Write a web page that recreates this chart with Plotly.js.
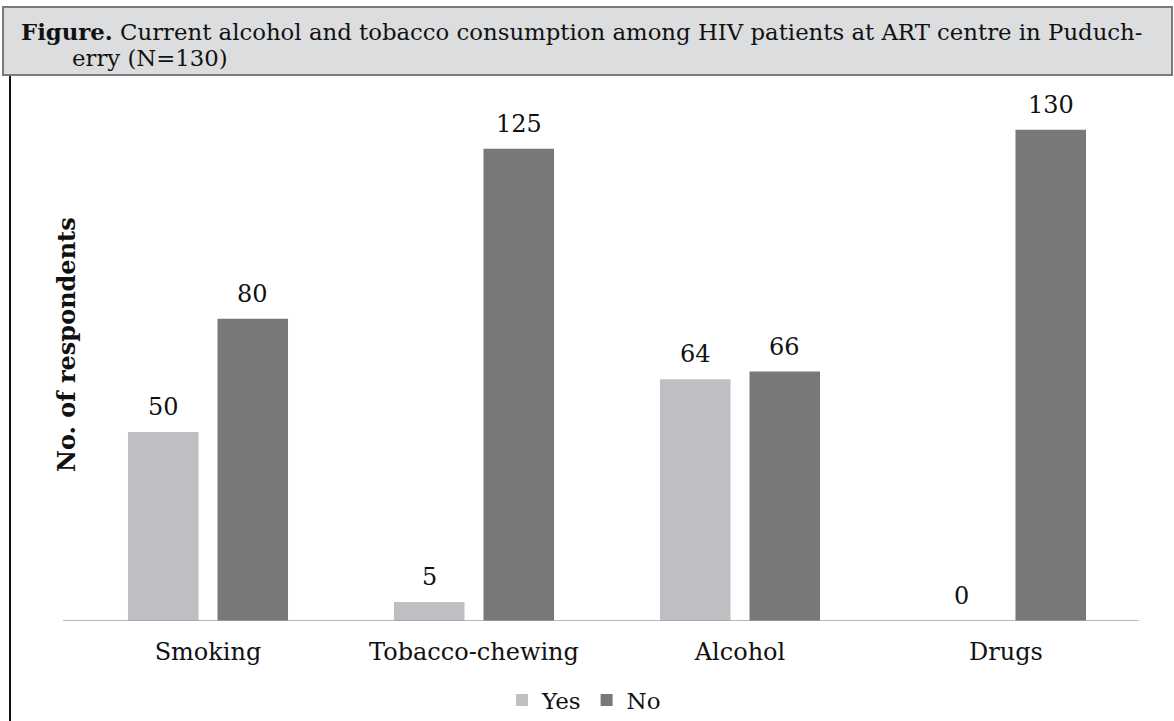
<!DOCTYPE html>
<html>
<head>
<meta charset="utf-8">
<script src="https://cdn.plot.ly/plotly-3.0.1.min.js"></script>
<style>html,body{margin:0;padding:0;background:#fff;}#chart{width:1174px;height:721px;}</style>
</head>
<body>
<div id="chart"></div>
<script>
const categories = ["Smoking", "Tobacco-chewing", "Alcohol", "Drugs"];
const yesValues = [50, 5, 64, 0];
const noValues = [80, 125, 66, 130];
const seriesNames = ["Yes", "No"];
const titleLine1 = "<b>Figure.</b> Current alcohol and tobacco consumption among HIV patients at ART centre in Puduch-";
const titleLine2 = "erry (N=130)";
const yTitle = "<b>No. of respondents</b>";

const W = 1174, H = 721;
const L = 75, R = 1139, T = 92, B = 621;
const px = x => (x - L) / (R - L);
const py = y => (B - y) / (B - T);
const FONT = "DejaVu Serif, Liberation Serif, serif";
const bargap = 0.327;
const catW = (R - L) / categories.length;
const slot = catW * (1 - bargap) / 2;

const traces = [
  {type: "bar", name: seriesNames[0], x: categories, y: yesValues, marker: {color: "#bebfc3"}, hoverinfo: "none"},
  {type: "bar", name: seriesNames[1], x: categories, y: noValues, marker: {color: "#77787a"}, hoverinfo: "none"}
];

const annotations = [];
[yesValues, noValues].forEach((vals, si) => {
  vals.forEach((v, i) => {
    annotations.push({
      x: categories[i], y: v, xref: "x", yref: "y", text: String(v), showarrow: false,
      xshift: (si === 0 ? -1 : 1) * slot / 2, yshift: 9, yanchor: "bottom",
      font: {family: FONT, size: 24, color: "#111"}
    });
  });
});
annotations.push({xref: "paper", yref: "paper", x: px(19), y: py(32), xanchor: "left", yanchor: "middle",
  text: titleLine1, showarrow: false, font: {family: FONT, size: 22.8, color: "#111"}});
annotations.push({xref: "paper", yref: "paper", x: px(70), y: py(58), xanchor: "left", yanchor: "middle",
  text: titleLine2, showarrow: false, font: {family: FONT, size: 22.8, color: "#111"}});
annotations.push({xref: "paper", yref: "paper", x: px(66), y: py(345), xanchor: "center", yanchor: "middle",
  textangle: -90, text: yTitle, showarrow: false, font: {family: FONT, size: 24, color: "#111"}});

const layout = {
  width: W, height: H,
  margin: {l: L, r: W - R, t: T, b: H - B, pad: 0, autoexpand: false},
  paper_bgcolor: "#fff", plot_bgcolor: "#fff",
  barmode: "group", bargap: bargap, bargroupgap: 0.212,
  showlegend: true,
  legend: {orientation: "h", x: px(584), xanchor: "center", y: py(700), yanchor: "middle",
    font: {family: FONT, size: 23, color: "#111"}, itemclick: false, traceorder: "normal"},
  xaxis: {type: "category", showgrid: false, zeroline: false, showline: false, ticks: "",
    tickfont: {family: FONT, size: 24, color: "#111"}, ticklabelstandoff: 14, fixedrange: true, automargin: false},
  yaxis: {range: [0, 140], showgrid: false, zeroline: false, showline: false, showticklabels: false, fixedrange: true, automargin: false},
  shapes: [
    {type: "rect", xref: "paper", yref: "paper", x0: px(3), x1: px(1172), y0: py(7), y1: py(75),
      fillcolor: "#dcdddf", line: {color: "#7a7a7a", width: 2}, layer: "below"},
    {type: "line", xref: "paper", yref: "paper", x0: px(10), x1: px(10), y0: py(76), y1: py(721),
      line: {color: "#111", width: 2}},
    {type: "line", xref: "paper", yref: "y", x0: px(63), x1: 1, y0: 0, y1: 0,
      line: {color: "#a0a0a0", width: 1.5}}
  ],
  annotations: annotations
};

Plotly.newPlot("chart", traces, layout, {displayModeBar: false, staticPlot: true});
</script>
</body>
</html>
